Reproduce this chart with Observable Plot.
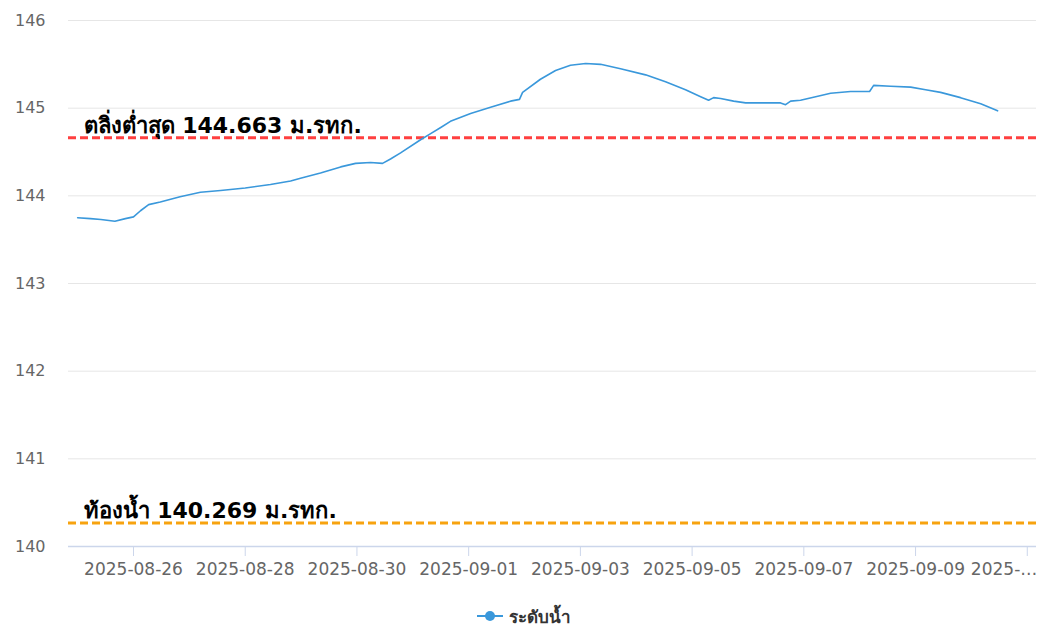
<!DOCTYPE html>
<html>
<head>
<meta charset="utf-8">
<script src="https://cdn.jsdelivr.net/npm/d3@7"></script>
<script src="https://cdn.jsdelivr.net/npm/@observablehq/plot@0.6"></script>
<style>
  html, body { margin: 0; padding: 0; background: #fff; }
  #chart { width: 1048px; }
  #legend { display: flex; justify-content: center; align-items: center; height: 24px; margin-top: 14px;
    font-family: "DejaVu Sans", "Noto Sans", sans-serif; font-weight: bold; font-size: 17px; color: #333; }
  #legend svg { margin-right: 6px; }
</style>
</head>
<body>
<div id="chart"></div>
<div id="legend"></div>
<script>
// ---- data ----
const times = [
  "2025-08-25T00:00","2025-08-25T05:30","2025-08-25T10:00","2025-08-25T16:00","2025-08-25T20:30",
  "2025-08-26T00:00","2025-08-26T03:00","2025-08-26T06:30","2025-08-26T11:30","2025-08-26T20:00",
  "2025-08-27T04:45","2025-08-27T13:25","2025-08-28T00:00","2025-08-28T10:50","2025-08-28T19:30",
  "2025-08-28T23:45","2025-08-29T08:20","2025-08-29T17:00","2025-08-29T23:25","2025-08-30T05:50",
  "2025-08-30T11:00","2025-08-30T14:25","2025-08-30T18:45","2025-08-31T03:20","2025-08-31T07:40",
  "2025-08-31T12:00","2025-08-31T16:10","2025-09-01T00:50","2025-09-01T09:25","2025-09-01T18:00",
  "2025-09-01T21:50","2025-09-01T23:10","2025-09-02T06:50","2025-09-02T13:20","2025-09-02T19:45",
  "2025-09-03T02:15","2025-09-03T08:40","2025-09-03T17:15","2025-09-04T04:00","2025-09-04T12:35",
  "2025-09-04T21:10","2025-09-05T03:40","2025-09-05T07:05","2025-09-05T09:15","2025-09-05T12:15",
  "2025-09-05T17:50","2025-09-05T23:00","2025-09-06T14:00","2025-09-06T16:10","2025-09-06T18:20",
  "2025-09-06T22:35","2025-09-07T05:05","2025-09-07T11:30","2025-09-07T20:05","2025-09-08T04:15",
  "2025-09-08T06:00","2025-09-08T13:20","2025-09-08T21:55","2025-09-09T04:20","2025-09-09T10:45",
  "2025-09-09T19:20","2025-09-10T04:00","2025-09-10T11:15"
];
const levels = [
  143.75,143.74,143.73,143.71,143.74,
  143.76,143.83,143.90,143.93,143.99,
  144.04,144.06,144.09,144.13,144.17,
  144.20,144.26,144.33,144.37,144.38,
  144.37,144.42,144.49,144.64,144.71,
  144.78,144.85,144.94,145.01,145.08,
  145.10,145.18,145.33,145.43,145.49,
  145.51,145.50,145.45,145.38,145.30,
  145.21,145.13,145.09,145.12,145.11,
  145.08,145.06,145.06,145.04,145.08,
  145.09,145.13,145.17,145.19,145.19,
  145.26,145.25,145.24,145.21,145.18,
  145.12,145.05,144.97
];
const seriesName = "ระดับน้ำ";
const bankLevel = 144.663;
const bankLabel = "ตลิ่งต่ำสุด 144.663 ม.รทก.";
const bedLevel = 140.269;
const bedLabel = "ท้องน้ำ 140.269 ม.รทก.";
const yTicks = [140, 141, 142, 143, 144, 145, 146];
const xTickDates = ["2025-08-26","2025-08-28","2025-08-30","2025-09-01","2025-09-03","2025-09-05","2025-09-07","2025-09-09","2025-09-11"];
const xTickLabels = ["2025-08-26","2025-08-28","2025-08-30","2025-09-01","2025-09-03","2025-09-05","2025-09-07","2025-09-09","2025-…"];

// ---- build ----
const parse = d3.utcParse("%Y-%m-%dT%H:%M");
const parseDay = d3.utcParse("%Y-%m-%d");
const data = times.map((t, i) => ({date: parse(t), value: levels[i]}));
const xTicks = xTickDates.map(parseDay);
const labelOf = new Map(xTicks.map((d, i) => [+d, xTickLabels[i]]));
const lastTick = xTicks[xTicks.length - 1];

const blue = "#3a98db";
const gray = "#666666";
const font = "'DejaVu Sans', 'Noto Sans', sans-serif";

const chart = Plot.plot({
  width: 1048,
  height: 590,
  marginLeft: 68,
  marginRight: 12,
  marginTop: 20,
  marginBottom: 44,
  style: {fontFamily: font, background: "#fff"},
  x: {type: "utc", domain: [parse("2025-08-24T20:04"), parse("2025-09-11T03:58")], label: null},
  y: {domain: [140, 146], label: null},
  marks: [
    Plot.ruleY(yTicks.filter(v => v > 140), {stroke: "#e6e6e6", strokeWidth: 1}),
    Plot.axisY({ticks: yTicks, tickSize: 0, tickPadding: 23, tickFormat: d => d, fill: gray, fontSize: 16, textAnchor: "end", label: null}),
    Plot.axisX({ticks: xTicks, tickSize: 10, tickPadding: 6, stroke: "#ccd6eb", fill: gray, fontSize: 17, label: null,
      tickFormat: d => (+d === +lastTick ? "" : labelOf.get(+d))}),
    Plot.axisX({ticks: [lastTick], tickSize: 0, tickPadding: 16, fill: gray, fontSize: 17, label: null,
      textAnchor: "end", dx: 10, tickFormat: d => labelOf.get(+d)}),
    Plot.ruleY([140], {stroke: "#ccd6eb", strokeWidth: 1.5}),
    Plot.ruleY([bankLevel], {stroke: "#ff4040", strokeWidth: 3, strokeDasharray: "8,4"}),
    Plot.ruleY([bedLevel], {stroke: "#f7a30f", strokeWidth: 3, strokeDasharray: "8,4"}),
    Plot.line(data, {x: "date", y: "value", stroke: blue, strokeWidth: 1.6}),
    Plot.text([bankLabel], {frameAnchor: "left", y: d => bankLevel, dx: 15, dy: -5, lineAnchor: "bottom", textAnchor: "start",
      fill: "#000", fontWeight: "bold", fontSize: 22}),
    Plot.text([bedLabel], {frameAnchor: "left", y: d => bedLevel, dx: 15, dy: -5, lineAnchor: "bottom", textAnchor: "start",
      fill: "#000", fontWeight: "bold", fontSize: 22})
  ]
});
document.getElementById("chart").appendChild(chart);

document.getElementById("legend").innerHTML =
  `<svg width="26" height="14"><line x1="0" y1="7" x2="26" y2="7" stroke="${blue}" stroke-width="2"/><circle cx="13" cy="7" r="5" fill="${blue}"/></svg><span>${seriesName}</span>`;
</script>
</body>
</html>
